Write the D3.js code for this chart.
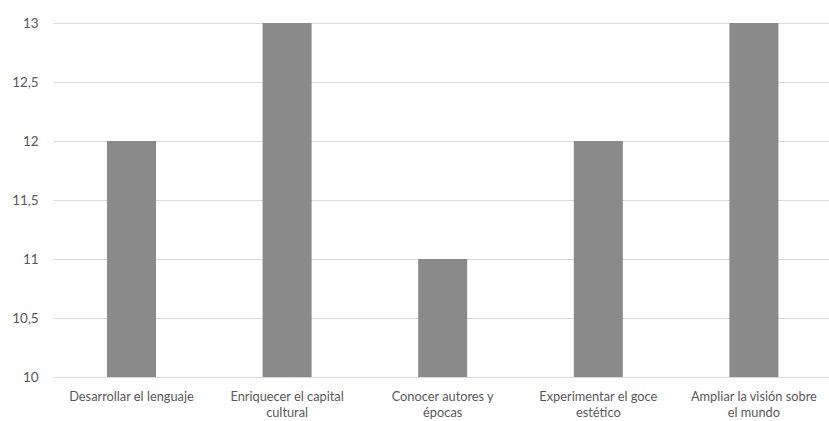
<!DOCTYPE html>
<html>
<head>
<meta charset="utf-8">
<script src="https://cdn.jsdelivr.net/npm/d3@7"></script>
<style>
  html, body { margin: 0; padding: 0; background: #fff; }
  svg { display: block; }
  text { font-family: Lato, "Open Sans", "Liberation Sans", sans-serif; fill: #595959; }
</style>
</head>
<body>
<svg id="chart" width="829" height="421"></svg>
<script>
// Categories (label lines as they wrap under each bar)
const categories = [
  "Desarrollar el lenguaje",
  "Enriquecer el capital cultural",
  "Conocer autores y épocas",
  "Experimentar el goce estético",
  "Ampliar la visión sobre el mundo"
];
const labelLines = [
  ["Desarrollar el lenguaje"],
  ["Enriquecer el capital", "cultural"],
  ["Conocer autores y", "épocas"],
  ["Experimentar el goce", "estético"],
  ["Ampliar la visión sobre", "el mundo"]
];
const values = [12, 13, 11, 12, 13];
const yTicks = [10, 10.5, 11, 11.5, 12, 12.5, 13];

const svg = d3.select("#chart");
const margin = { left: 53.7, right: -2.7, top: 23, bottom: 44 };
const W = 829, H = 421;
const font = 'Lato, "Open Sans", "Liberation Sans", sans-serif';

const x = d3.scaleBand()
  .domain(categories)
  .range([margin.left, W - margin.right])
  .paddingInner(0.685)
  .paddingOuter(0.3425);

const y = d3.scaleLinear()
  .domain([10, 13])
  .range([H - margin.bottom, margin.top]);

const fmt = v => String(v).replace(".", ",");

// Horizontal gridlines
svg.append("g")
  .selectAll("line")
  .data(yTicks)
  .join("line")
  .attr("x1", margin.left)
  .attr("x2", W)
  .attr("y1", d => Math.round(y(d)) + 0.5)
  .attr("y2", d => Math.round(y(d)) + 0.5)
  .attr("stroke", "#d9d9d9")
  .attr("stroke-width", 1.2);

// Y axis labels
const yAxis = d3.axisLeft(y).tickValues(yTicks).tickFormat(fmt).tickSize(0).tickPadding(15);
const gy = svg.append("g").attr("transform", `translate(${margin.left},0)`).call(yAxis);
gy.select(".domain").remove();
gy.selectAll("text")
  .attr("font-size", 13.5)
  .style("font-family", font)
  .attr("fill", "#595959");

// Bars
svg.append("g")
  .selectAll("rect")
  .data(values)
  .join("rect")
  .attr("x", (d, i) => x(categories[i]))
  .attr("width", x.bandwidth())
  .attr("y", d => y(d))
  .attr("height", d => y(10) - y(d))
  .attr("fill", "#8a8a8a");

// Category labels, one text element per line
const gx = svg.append("g");
labelLines.forEach((lines, i) => {
  const cx = x(categories[i]) + x.bandwidth() / 2;
  lines.forEach((ln, j) => {
    gx.append("text")
      .attr("text-anchor", "middle")
      .attr("font-size", 12.8)
      .attr("x", cx)
      .attr("y", H - margin.bottom + 24 + j * 15.5)
      .text(ln);
  });
});
</script>
</body>
</html>
